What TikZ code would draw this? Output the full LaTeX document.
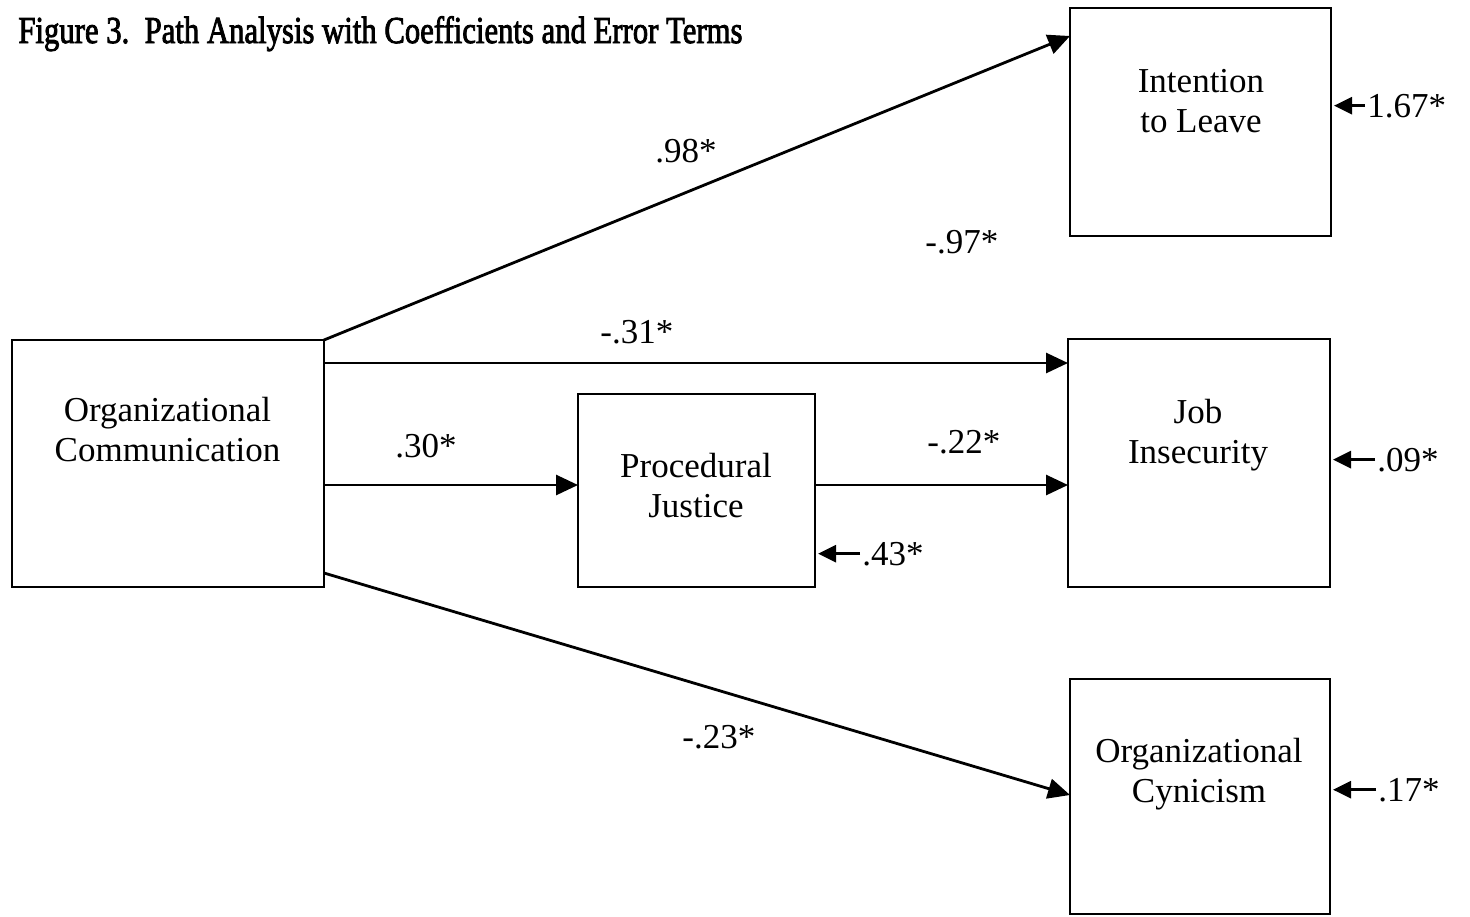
\documentclass[tikz,border=0pt]{standalone}
\usepackage{fontspec}
\setmainfont{Liberation Serif}
\newfontfamily\titlefont[FakeBold=2.5]{Liberation Serif}
\usetikzlibrary{arrows.meta}

\begin{document}
\begin{tikzpicture}[x=0.5pt,y=-0.5pt,
  box/.style={draw,line width=1.1pt,inner sep=0pt,outer sep=0pt},
  boxtext/.style={anchor=north,align=center,inner sep=0pt,
    font=\fontsize{17.5}{20.25}\selectfont},
  coef/.style={anchor=base west,inner sep=0pt,
    font=\fontsize{17.5}{20.25}\selectfont},
  conn/.style={line width=1.4pt,-{Triangle[length=11pt,width=10pt]}},
  errarrow/.style={line width=1.4pt,-{Triangle[length=9pt,width=8.5pt]},
    shorten <=1pt,shorten >=1.5pt}]
\useasboundingbox (0,0) rectangle (1470,916);

% title
\node[anchor=base west,inner sep=0pt] (title) at (18,43)
  {\titlefont\fontsize{19}{22}\selectfont
   \resizebox{362pt}{\height}{Figure 3.\ \ Path Analysis with Coefficients and Error Terms}};

% variable boxes
\node[box,minimum width=156pt,minimum height=123.5pt] (oc)  at (168,463.5) {};
\node[box,minimum width=130.5pt,minimum height=114pt] (il)  at (1200.5,122) {};
\node[box,minimum width=131pt,minimum height=124pt]   (job) at (1199,463) {};
\node[box,minimum width=118.5pt,minimum height=96.5pt] (pj) at (696.5,490.5) {};
\node[box,minimum width=130pt,minimum height=117.5pt] (cyn) at (1200,796.5) {};

% box captions
\node[boxtext] (octx)  at (167.5,392.65) {Organizational\strut\\Communication\strut};
\node[boxtext] (iltx)  at (1201,63.65)   {Intention\strut\\to Leave\strut};
\node[boxtext] (jobtx) at (1198,394.65)  {Job\strut\\Insecurity\strut};
\node[boxtext] (pjtx)  at (696,448.65)   {Procedural\strut\\Justice\strut};
\node[boxtext] (cyntx) at (1199,733.65)  {Organizational\strut\\Cynicism\strut};

% paths
\draw[conn] (oc.north east) -- ([yshift=-14pt]il.north west);
\coordinate (c1) at ([yshift=-11.5pt]oc.north east);
\draw[conn] (c1) -- (c1 -| job.west);
\coordinate (c2) at ([yshift=2.75pt]pj.west);
\draw[conn] (c2 -| oc.east) -- (c2);
\coordinate (c3) at ([yshift=2.75pt]pj.east);
\draw[conn] (c3) -- (c3 -| job.west);
\draw[conn] ([yshift=7pt]oc.south east) -- ([yshift=0.75pt]cyn.west);

% path coefficients
\node[coef] (k1) at (655,162) {.98*};
\node[coef] (k2) at (925,253) {-.97*};
\node[coef] (k3) at (600,343) {-.31*};
\node[coef] (k4) at (395,457) {.30*};
\node[coef] (k5) at (927,453) {-.22*};
\node[coef] (k6) at (682,748) {-.23*};

% error terms
\node[coef] (e1) at (1367,117) {1.67*};
\draw[errarrow] (e1.west) -- (e1.west -| il.east);
\node[coef] (e2) at (1377,471) {.09*};
\draw[errarrow] (e2.west) -- (e2.west -| job.east);
\node[coef] (e3) at (862,565) {.43*};
\draw[errarrow] (e3.west) -- (e3.west -| pj.east);
\node[coef] (e4) at (1378,801) {.17*};
\draw[errarrow] (e4.west) -- (e4.west -| cyn.east);
\end{tikzpicture}
\end{document}
